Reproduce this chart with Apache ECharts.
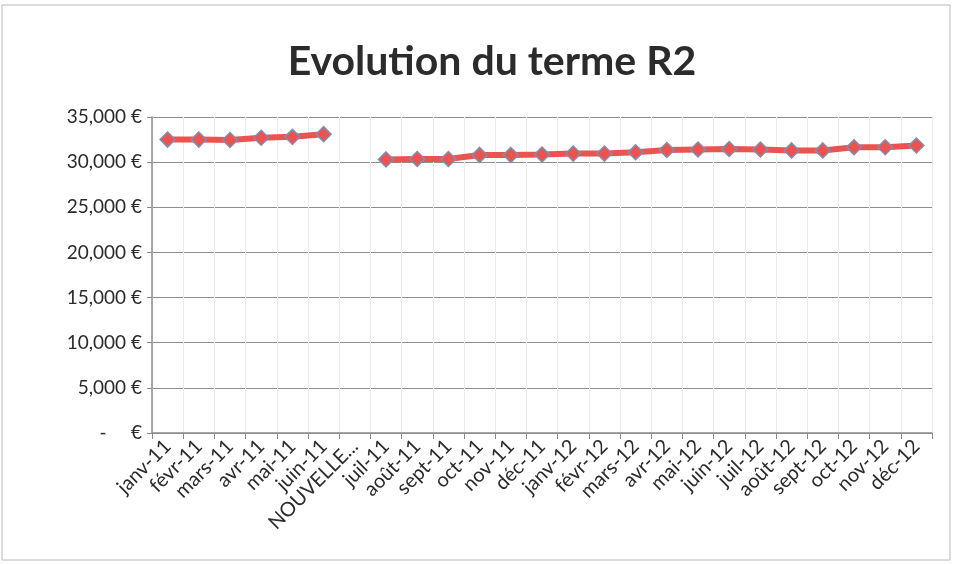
<!DOCTYPE html>
<html>
<head>
<meta charset="utf-8">
<script src="https://cdn.jsdelivr.net/npm/echarts@6/dist/echarts.min.js"></script>
<style>
  html, body { margin: 0; padding: 0; background: #fff; }
  #chart { width: 954px; height: 564px; }
</style>
</head>
<body>
<div id="chart"></div>
<script>
// categories (mois)
const months = [
  "janv-11", "févr-11", "mars-11", "avr-11", "mai-11", "juin-11", "NOUVELLE...",
  "juil-11", "août-11", "sept-11", "oct-11", "nov-11", "déc-11",
  "janv-12", "févr-12", "mars-12", "avr-12", "mai-12", "juin-12",
  "juil-12", "août-12", "sept-12", "oct-12", "nov-12", "déc-12"
];
// terme R2 (€) - null = pas de valeur
const termeR2 = [
  32500, 32500, 32450, 32700, 32800, 33100, null,
  30300, 30350, 30350, 30800, 30800, 30850,
  30950, 30950, 31100, 31350, 31400, 31450,
  31400, 31300, 31300, 31650, 31650, 31850
];
const yTicks = { min: 0, max: 35000, interval: 5000 };

const myChart = echarts.init(document.getElementById("chart"));
const font = "Lato, sans-serif";

const option = {
  backgroundColor: "#fff",
  animation: false,
  title: {
    text: "Evolution du terme R2",
    left: 487,
    top: 36,
    textAlign: "center",
    textStyle: { fontFamily: font, fontSize: 41, fontWeight: "bold", color: "#2b2b2b" }
  },
  graphic: [{
    type: "rect",
    shape: { x: 2, y: 5, width: 948, height: 555 },
    style: { fill: "none", stroke: "#b8b8b8", lineWidth: 1 }
  }],
  grid: { left: 152, right: 22, top: 117, bottom: 131 },
  xAxis: {
    type: "category",
    data: months,
    boundaryGap: true,
    axisLine: { lineStyle: { color: "#8c8c8c", width: 1.5 } },
    axisTick: { show: true, inside: false, length: 6, lineStyle: { color: "#8c8c8c" } },
    splitLine: { show: true, lineStyle: { color: "#ececec", width: 1 } },
    axisLabel: {
      interval: 0,
      rotate: 45,
      margin: 10,
      fontFamily: font,
      fontSize: 20,
      color: "#2b2b2b"
    }
  },
  yAxis: {
    type: "value",
    min: yTicks.min,
    max: yTicks.max,
    interval: yTicks.interval,
    axisLine: { show: true, lineStyle: { color: "#8c8c8c", width: 1.5 } },
    axisTick: { show: true, length: 5, lineStyle: { color: "#8c8c8c" } },
    splitLine: { show: true, lineStyle: { color: "#8f8f8f", width: 1 } },
    axisLabel: {
      margin: 10,
      fontFamily: font,
      fontSize: 19,
      color: "#2b2b2b",
      formatter: function (v) {
        return v === 0 ? "-     €" : v.toLocaleString("en-US") + " €";
      }
    }
  },
  series: [{
    name: "Terme R2",
    type: "line",
    data: termeR2,
    connectNulls: false,
    symbol: "diamond",
    symbolSize: 15,
    lineStyle: { color: "#ec5350", width: 6 },
    itemStyle: { color: "#ec5350", borderColor: "#7f8fae", borderWidth: 1.5 }
  }]
};

myChart.setOption(option);
</script>
</body>
</html>
